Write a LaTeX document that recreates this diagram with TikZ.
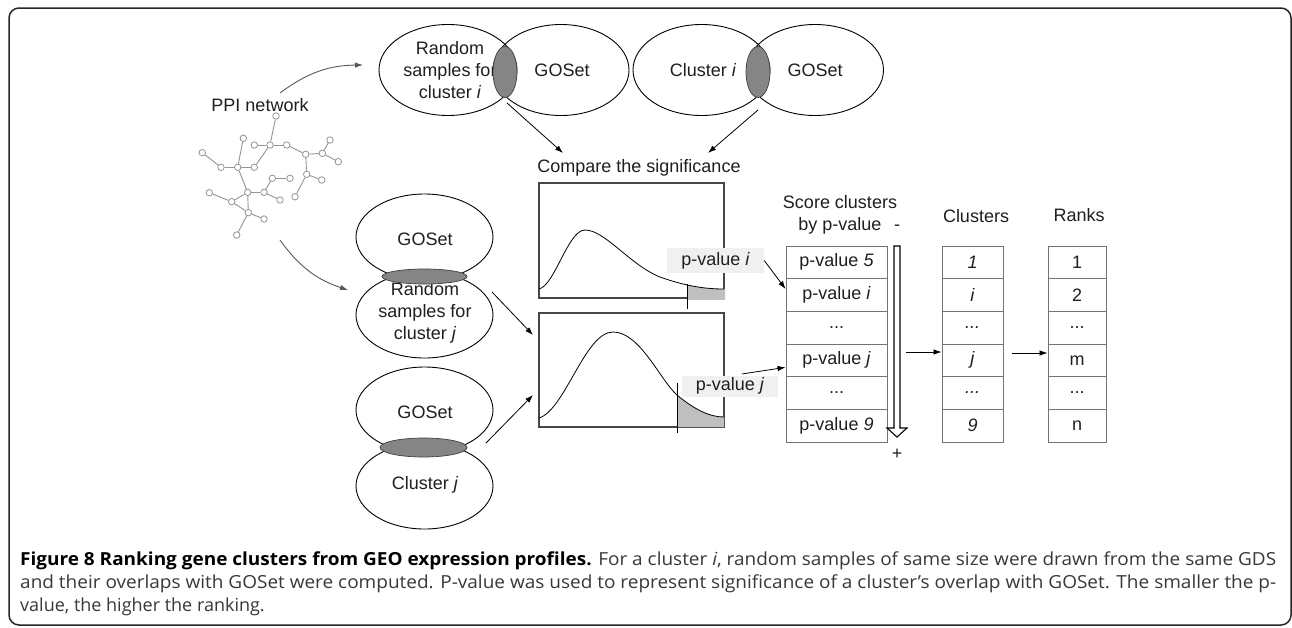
\documentclass[tikz,border=0pt]{standalone}
\usepackage{fontspec}
\setmainfont{Liberation Sans}
\newfontfamily\capfont{Open Sans}
\usetikzlibrary{arrows.meta,shapes.geometric}
\newcommand\myddd{...}
\newsavebox\mycapbox
\newcommand\mycapline[2]{\sbox\mycapbox{#2}\pgfmathsetmacro\mycapfac{#1/\wd\mycapbox}\scalebox{\mycapfac}[1]{\usebox\mycapbox}}
\begin{document}
\begin{tikzpicture}[x=1pt,y=-1pt,
  ell/.style={draw=black, line width=0.9pt, ellipse, inner sep=0pt},
  lens/.style={draw=black!75, line width=0.7pt, fill=black!48, ellipse, inner sep=0pt},
  lbl/.style={font=\fontsize{18}{22}\selectfont, align=center, text=black!88, inner sep=0pt},
  cell/.style={draw=black!55, line width=0.9pt, minimum height=32.67pt, inner sep=0pt, font=\fontsize{18}{22}\selectfont, text=black!88},
  arr/.style={-{Latex[length=8pt,width=5.5pt]}, line width=0.8pt},
  garr/.style={-{Latex[length=8pt,width=5.5pt]}, line width=0.9pt, draw=black!65},
  pnode/.style={circle, draw=black!42, fill=white, line width=0.8pt, minimum size=6.5pt, inner sep=0pt},
  pedge/.style={draw=black!42, line width=0.9pt},
  plabel/.style={fill=black!6, minimum width=97pt, minimum height=25pt, inner sep=0pt, font=\fontsize{18}{22}\selectfont, text=black!88},
  distbox/.style={draw=black!72, line width=1.2pt, minimum width=185pt, inner sep=0pt},
  tail/.style={fill=black!25},
  curve/.style={draw=black, line width=0.8pt},
  capstyle/.style={anchor=base west, inner sep=0pt, font=\capfont\fontsize{18}{22}\selectfont, text=black!78}
]
\useasboundingbox (0,0) rectangle (1292,627);
\fill[white] (0,0) rectangle (1292,627);
% frame
\draw[line width=1.5pt, black!85, rounded corners=10pt] (9,8) rectangle (1291,625);

% ---------- top ellipses ----------
\node[ell, minimum width=138pt, minimum height=91pt] (e1) at (448,70) {};
\node[ell, minimum width=136pt, minimum height=91pt] (e2) at (561,70) {};
\node[ell, minimum width=137pt, minimum height=91pt] (e3) at (701.5,70) {};
\node[ell, minimum width=137pt, minimum height=91pt] (e4) at (815,70) {};
\node[lbl] (t1) at (450,70) {Random\\samples for\\cluster \textit{i}};
\node[lbl] (t2) at (562,70) {GOSet};
\node[lbl] (t3) at (703,70) {Cluster \textit{i}};
\node[lbl] (t4) at (815,70) {GOSet};
\node[lens, minimum width=24pt, minimum height=51pt] (l1) at (505,72) {};
\node[lens, minimum width=24pt, minimum height=51pt] (l2) at (758,72) {};

% ---------- left ellipses ----------
\node[ell, minimum width=137pt, minimum height=86pt] (e5) at (424.5,237) {};
\node[ell, minimum width=137pt, minimum height=86pt] (e6) at (424.5,315) {};
\node[ell, minimum width=137pt, minimum height=86pt] (e7) at (424.5,410) {};
\node[ell, minimum width=137pt, minimum height=86pt] (e8) at (424.5,486) {};
\node[lbl] (t5) at (425,239) {GOSet};
\node[lbl] (t6) at (425,313) {Random\\samples for\\cluster \textit{j}};
\node[lbl] (t7) at (425,412) {GOSet};
\node[lbl] (t8) at (425,485) {Cluster \textit{j}};
\node[lens, minimum width=85pt, minimum height=15pt] (l3) at (424.5,276.5) {};
\node[lens, minimum width=87pt, minimum height=19pt] (l4) at (423.5,447.5) {};

% ---------- PPI network ----------
\node[lbl] (ppi) at (260,105) {PPI network};
\foreach \n/\x/\y in {1/276/116, 2/270/145, 3/254.3/145, 4/286.7/145, 5/305.7/154.3,
  6/322.3/153.3, 7/330/140, 8/338.3/161.7, 9/306.7/174.3, 10/321.7/180, 11/295/196.7,
  12/254.3/167.3, 13/237.7/167.3, 14/221/167.3, 15/202.3/152.7, 16/243.3/138.3,
  17/247.7/192.3, 18/264/192.3, 19/272.3/178.3, 20/290/178.3, 21/280/200,
  22/231.7/201.7, 23/209.3/192.7, 24/248.3/212.7, 25/264/219, 26/236.7/235}
  \node[pnode] (p\n) at (\x,\y) {};
\foreach \a/\b in {1/2, 3/2, 2/4, 4/5, 5/6, 6/7, 6/8, 5/9, 9/10, 9/11, 2/12, 12/13,
  13/14, 14/15, 13/16, 13/17, 17/18, 18/19, 19/20, 18/21, 17/22, 22/23, 22/24, 17/24,
  24/25, 24/26}
  \draw[pedge] (p\a) -- (p\b);
\coordinate (pa1s) at (280,93);
\coordinate (pa2s) at (280,240);
\coordinate (pa1e) at (363,65);
\coordinate (pa2e) at (348,290);
\draw[garr] (pa1s) to[bend left=18] (pa1e);
\draw[garr] (pa2s) to[bend right=18] (pa2e);

% ---------- distributions ----------
\node[lbl] (cmp) at (639,168) {Compare the significance};
\node[distbox, minimum height=115pt] (b1) at (631.5,240.5) {};
\node[distbox, minimum height=114pt] (b2) at (631.5,370) {};
\begin{scope}
  \clip (687,200) rectangle (725,299.5);
  \fill[tail] (539,289) .. controls (555,285) and (568,230) .. (585,230)
     .. controls (605,230) and (630,265) .. (660,277)
     .. controls (685,286) and (705,289) .. (725,289) -- (725,300) -- (539,300) -- cycle;
\end{scope}
\draw[curve] (539,289) .. controls (555,285) and (568,230) .. (585,230)
     .. controls (605,230) and (630,265) .. (660,277)
     .. controls (685,286) and (705,289) .. (724,289);
\coordinate (v1a) at (687,284);
\coordinate (v1b) at (687,309);
\draw[line width=0.9pt] (v1a) -- (v1b);
\begin{scope}
  \clip (677,330) rectangle (724,427);
  \fill[tail] (539,418) .. controls (565,410) and (585,332) .. (613,332)
     .. controls (640,332) and (660,380) .. (677,395)
     .. controls (695,410) and (710,417) .. (724,417) -- (724,427) -- (539,427) -- cycle;
\end{scope}
\draw[curve] (539,418) .. controls (565,410) and (585,332) .. (613,332)
     .. controls (640,332) and (660,380) .. (677,395)
     .. controls (695,410) and (710,417) .. (724,417);
\coordinate (v2a) at (677,383);
\coordinate (v2b) at (677,433);
\draw[line width=0.9pt] (v2a) -- (v2b);
\node[plabel] (pv1) at (715.5,260.5) {p-value \textit{i}};
\node[plabel, minimum width=96pt, minimum height=21pt] (pv2) at (730,386) {p-value \textit{j}};

% arrows into compare / boxes
\coordinate (a1s) at (507,103);
\coordinate (a1e) at (563,153);
\coordinate (a2s) at (758,110);
\coordinate (a2e) at (708,153);
\draw[arr] (a1s) -- (a1e);
\draw[arr] (a2s) -- (a2e);
\coordinate (a3s) at (492,292);
\coordinate (a3e) at (533,335);
\coordinate (a4s) at (486,443);
\coordinate (a4e) at (533,395);
\draw[arr] (a3s) -- (a3e);
\draw[arr] (a4s) -- (a4e);

% ---------- tables ----------
\node[lbl] (sh) at (840,215) {Score clusters\\by p-value};
\node[lbl] (minus) at (897,228) {-};
\node[lbl] (plus) at (897,454) {+};
\node[lbl] (ch) at (976,216) {Clusters};
\node[lbl] (rh) at (1079,215) {Ranks};
\foreach \k/\y/\s/\c/\r in {1/262.33/p-value \textit{5}/\textit{1}/1,
   2/295/p-value \textit{i}/\textit{i}/2,
   3/327.67/\myddd/\textit{\myddd}/\myddd,
   4/360.33/p-value \textit{j}/\textit{j}/m,
   5/393/\myddd/\textit{\myddd}/\myddd,
   6/425.67/p-value \textit{9}/\textit{9}/n}{
  \node[cell, minimum width=101pt] (s\k) at (836.5,\y) {\s};
  \node[cell, minimum width=61pt] (c\k) at (972.5,\y) {\c};
  \node[cell, minimum width=58pt] (r\k) at (1077,\y) {\r};
}
% hollow arrow
\draw[line width=1.1pt, fill=white] (894,246) -- (900,246) -- (900,428) -- (907,428)
   -- (897,437) -- (887,428) -- (894,428) -- cycle;
\draw[arr] (pv1.east) -- ([yshift=6pt]s2.west);
\coordinate (a7s) at (742,374);
\draw[arr] (a7s) -- ([yshift=-7pt]s4.west);
\coordinate (a5s) at (906,352);
\coordinate (a6s) at (1012,353);
\draw[arr] (a5s) -- (a5s -| c4.west);
\draw[arr] (a6s) -- (a6s -| r4.west);

% ---------- caption ----------
\node[capstyle] (cap1) at (20,565)
  {\mycapline{1256}{\textcolor{black}{\textbf{Figure 8 Ranking gene clusters from GEO expression profiles.}} For a cluster \textit{i}, random samples of same size were drawn from the same GDS}};
\node[capstyle] (cap2) at (20,588)
  {\mycapline{1256}{and their overlaps with GOSet were computed. P-value was used to represent significance of a cluster’s overlap with GOSet. The smaller the p-}};
\node[capstyle] (cap3) at (20,611)
  {value, the higher the ranking.};
\end{tikzpicture}
\end{document}
